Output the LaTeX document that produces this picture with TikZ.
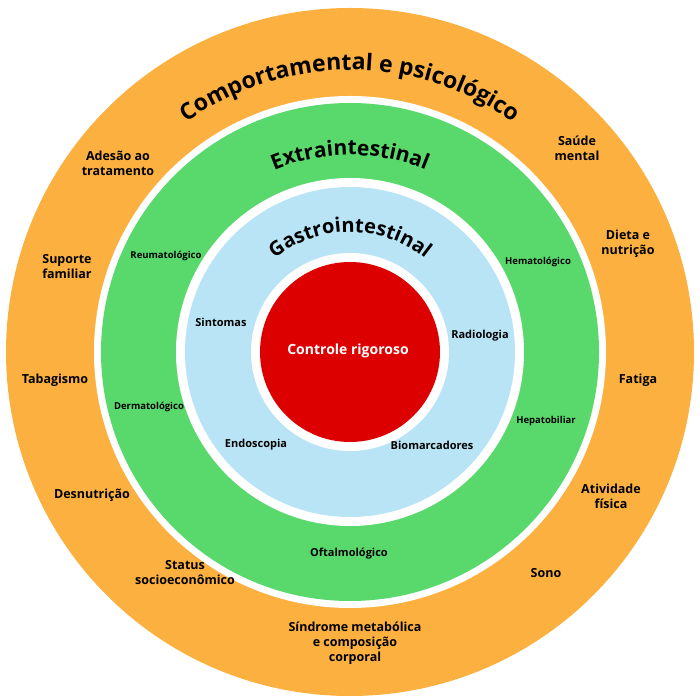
\documentclass[tikz,border=0pt]{standalone}
\usepackage{fontspec}
\setmainfont{Open Sans}
\usepackage[dvipsnames]{xcolor}
\definecolor{COMPcolor}{HTML}{FBB040}
\definecolor{EXTcolor}{HTML}{59D96C}
\definecolor{GIcolor}{HTML}{B8E4F5}
\definecolor{CTRLcolor}{HTML}{DC0000}
\usepackage{tikz}
\usetikzlibrary{decorations.text}

\begin{document}
\begin{tikzpicture}[x=1pt, y=1pt,
        outerlabel/.style={align=center, font=\fontsize{12.5}{15}\selectfont\bfseries},
        extlabel/.style={align=center, font=\fontsize{9.5}{11}\selectfont\bfseries},
        gilabel/.style={align=center, font=\fontsize{11}{13}\selectfont\bfseries},
        arctext/.style args={#1/#2}{decorate, decoration={text along path, text align=center,
                text={|\fontsize{#2}{#2}\selectfont\bfseries|#1}}}]

    \useasboundingbox (-350, -348) rectangle (350, 352);

    % rings
    \fill [COMPcolor] (0, 0) circle (344);
    \fill [white] (0, 0) circle (256);
    \fill [EXTcolor] (0, 0) circle (249);
    \fill [white] (0, 0) circle (174);
    \fill [GIcolor] (0, 0) circle (165);
    \fill [white] (0, 0) circle (99);
    \fill [CTRLcolor] (0, 0) circle (90);

    % curved titles
    \path [arctext={Comportamental e  psicológico/23}] (148:282) arc[start angle=148, end angle=32, radius=282];
    \path [arctext={Extraintestinal/21}] (140:197) arc[start angle=140, end angle=40, radius=197];
    \path [arctext={Gastrointestinal/20}] (140:120) arc[start angle=140, end angle=40, radius=120];

    \node [align=center, text=white, font=\fontsize{14}{16}\selectfont\bfseries] (ctrl) at (-2, 1) {Controle rigoroso};

    % gastrointestinal
    \node [gilabel] (sint) at (-129, 30) {Sintomas};
    \node [gilabel] (radio) at (130, 16) {Radiologia};
    \node [gilabel] (endo) at (-94, -93) {Endoscopia};
    \node [gilabel] (bio) at (82, -93) {Biomarcadores};

    % extraintestinal
    \node [extlabel] (reuma) at (-184, 96) {Reumatológico};
    \node [extlabel] (hemato) at (188, 90) {Hematológico};
    \node [extlabel] (derma) at (-201, -55) {Dermatológico};
    \node [extlabel] (hepato) at (196, -69) {Hepatobiliar};
    \node [gilabel] (oftalmo) at (-1, -202) {Oftalmológico};

    % comportamental
    \node [outerlabel] (saude) at (227, 204) {Saúde\\mental};
    \node [outerlabel] (adesao) at (-232, 189) {Adesão ao\\tratamento};
    \node [outerlabel] (suporte) at (-283, 85) {Suporte\\familiar};
    \node [outerlabel] (dieta) at (278, 108) {Dieta e\\nutrição};
    \node [outerlabel] (tabag) at (-295, -28) {Tabagismo};
    \node [outerlabel] (fadiga) at (288, -28) {Fatiga};
    \node [outerlabel] (desnut) at (-258, -143) {Desnutrição};
    \node [outerlabel] (ativ) at (261, -144) {Atividade\\física};
    \node [outerlabel] (status) at (-165, -221) {Status\\socioeconômico};
    \node [outerlabel] (sono) at (196, -221) {Sono};
    \node [outerlabel] (sindr) at (5, -291) {Síndrome metabólica\\e composição\\corporal};

\end{tikzpicture}
\end{document}
